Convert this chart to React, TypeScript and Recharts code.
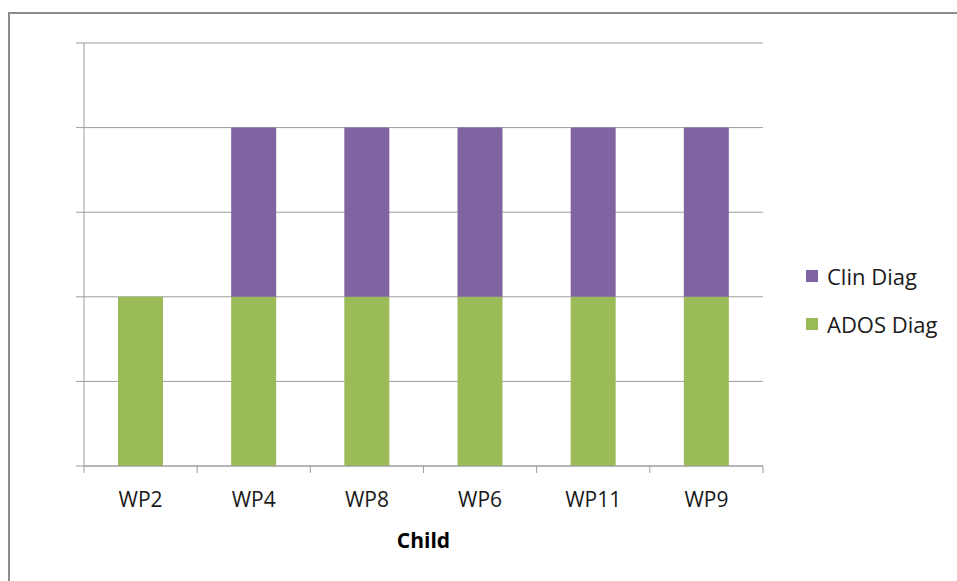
import { BarChart, Bar, XAxis, YAxis, CartesianGrid } from 'recharts';

const children = ['WP2', 'WP4', 'WP8', 'WP6', 'WP11', 'WP9'];
const adosDiag = [2, 2, 2, 2, 2, 2];
const clinDiag = [0, 2, 2, 2, 2, 2];
const yTicks = [0, 1, 2, 3, 4, 5];

const data = children.map((child, i) => ({ child, ados: adosDiag[i], clin: clinDiag[i] }));

const CHART_W = 949;
const CHART_H = 569;
const MARGIN = { top: 31, right: 194, bottom: 12, left: 0 };
const Y_AXIS_W = 76;
const FONT = '"Open Sans", "Noto Sans", sans-serif';
const GRID = '#9d9d9d';
const PURPLE = '#8064A2';
const GREEN = '#9BBB59';

const plotW = CHART_W - MARGIN.left - MARGIN.right - Y_AXIS_W;
const halfBand = plotW / children.length / 2;

function ChildTick(props: any) {
  const { x, y, payload, index } = props;
  const last = index === children.length - 1;
  return (
    <g>
      <line x1={x - halfBand} y1={y} x2={x - halfBand} y2={y + 7} stroke={GRID} strokeWidth={1} />
      {last && <line x1={x + halfBand} y1={y} x2={x + halfBand} y2={y + 7} stroke={GRID} strokeWidth={1} />}
      <text x={x} y={y + 41} textAnchor="middle" fontSize={21} fontFamily={FONT} fill="#1a1a1a">
        {payload.value}
      </text>
    </g>
  );
}

const legendItems = [
  { label: 'Clin Diag', color: PURPLE },
  { label: 'ADOS Diag', color: GREEN },
];

export default function App() {
  return (
    <div style={{ position: 'fixed', left: 0, top: 0, width: 957, height: 581, overflow: 'hidden', background: '#fff' }}>
      <div
        style={{
          position: 'absolute',
          left: 8,
          top: 12,
          width: 980,
          height: 600,
          borderTop: '2px solid #8c8c8c',
          borderLeft: '2px solid #8c8c8c',
          boxSizing: 'border-box',
        }}
      />
      <div style={{ position: 'absolute', left: 8, top: 12 }}>
        <BarChart width={CHART_W} height={CHART_H} data={data} margin={MARGIN} barSize={45}>
          <CartesianGrid horizontal vertical={false} stroke={GRID} strokeWidth={1} />
          <XAxis
            dataKey="child"
            height={103}
            axisLine={{ stroke: GRID }}
            tickLine={false}
            tickSize={0}
            tickMargin={0}
            interval={0}
            tick={<ChildTick />}
            label={{
              value: 'Child',
              position: 'insideBottom',
              offset: 21,
              style: { fontFamily: FONT, fontSize: 21, fontWeight: 700, fill: '#000' },
            }}
          />
          <YAxis
            width={Y_AXIS_W}
            domain={[0, 5]}
            ticks={yTicks}
            axisLine={{ stroke: GRID }}
            tickLine={{ stroke: GRID }}
            tickSize={8}
            tickFormatter={() => ''}
          />
          <Bar dataKey="ados" name="ADOS Diag" stackId="a" fill={GREEN} isAnimationActive={false} />
          <Bar dataKey="clin" name="Clin Diag" stackId="a" fill={PURPLE} isAnimationActive={false} />
        </BarChart>
      </div>
      <div style={{ position: 'absolute', left: 806, top: 252, fontFamily: FONT, fontSize: 22, color: '#1a1a1a' }}>
        {legendItems.map((item) => (
          <div key={item.label} style={{ display: 'flex', alignItems: 'center', height: 48 }}>
            <span style={{ display: 'inline-block', width: 12, height: 12, background: item.color, marginRight: 9 }} />
            {item.label}
          </div>
        ))}
      </div>
    </div>
  );
}
